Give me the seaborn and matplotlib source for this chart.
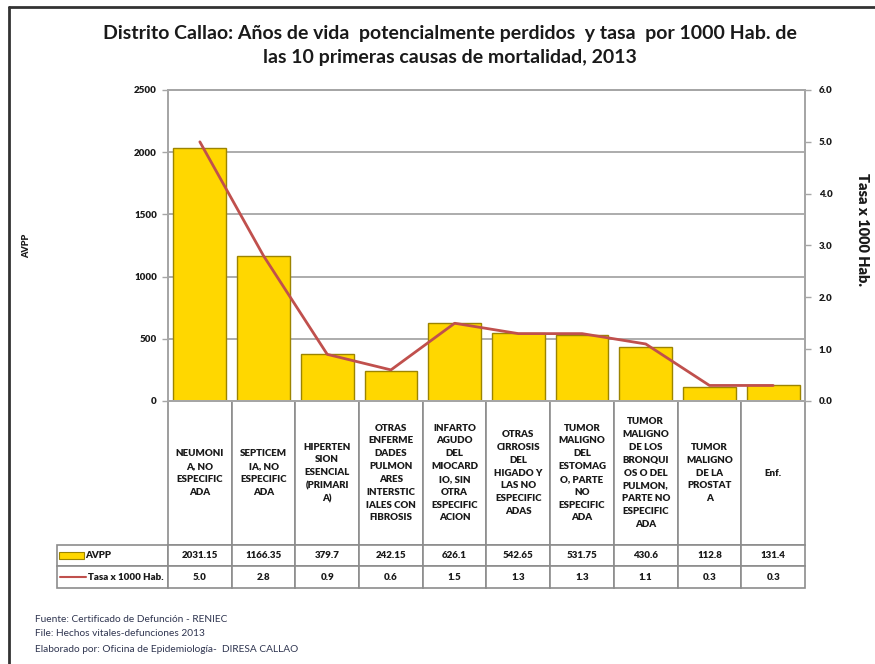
import matplotlib
matplotlib.use("Agg")
import numpy as np
import matplotlib.pyplot as plt
from matplotlib.lines import Line2D
from matplotlib.patches import Rectangle
from matplotlib.ticker import FormatStrFormatter
import seaborn as sns

# data
causes = [
    "NEUMONI\nA, NO\nESPECIFIC\nADA",
    "SEPTICEM\nIA, NO\nESPECIFIC\nADA",
    "HIPERTEN\nSION\nESENCIAL\n(PRIMARI\nA)",
    "OTRAS\nENFERME\nDADES\nPULMON\nARES\nINTERSTIC\nIALES CON\nFIBROSIS",
    "INFARTO\nAGUDO\nDEL\nMIOCARD\nIO, SIN\nOTRA\nESPECIFIC\nACION",
    "OTRAS\nCIRROSIS\nDEL\nHIGADO Y\nLAS NO\nESPECIFIC\nADAS",
    "TUMOR\nMALIGNO\nDEL\nESTOMAG\nO, PARTE\nNO\nESPECIFIC\nADA",
    "TUMOR\nMALIGNO\nDE LOS\nBRONQUI\nOS O DEL\nPULMON,\nPARTE NO\nESPECIFIC\nADA",
    "TUMOR\nMALIGNO\nDE LA\nPROSTAT\nA",
    "Enf.",
]
avpp = [2031.15, 1166.35, 379.7, 242.15, 626.1, 542.65, 531.75, 430.6, 112.8, 131.4]
tasa = [5.0, 2.8, 0.9, 0.6, 1.5, 1.3, 1.3, 1.1, 0.3, 0.3]
avpp_ticks = [0, 500, 1000, 1500, 2000, 2500]
tasa_ticks = [0, 1, 2, 3, 4, 5, 6]

GOLD = "#FFD700"
GOLD_EDGE = "#9C8400"
RED = "#C0504D"
GRID = "#A6A6A6"
TXT = "#1a1a1a"
BOLD = "heavy"

sns.set_theme(style="white")
plt.rcParams["font.family"] = ["Lato", "DejaVu Sans"]

W, H = 875, 664
fig = plt.figure(figsize=(W / 100, H / 100), dpi=100)


def px(x0, y0, x1, y1):
    return [x0 / W, 1 - y1 / H, (x1 - x0) / W, (y1 - y0) / H]


ax = fig.add_axes(px(168, 90, 805, 401))
sns.barplot(x=causes, y=avpp, color=GOLD, saturation=1, width=0.83,
            edgecolor=GOLD_EDGE, linewidth=1.0, ax=ax)
ax.set_xlim(-0.5, len(causes) - 0.5)
ax.set_ylim(0, 2500)
ax.set_yticks(avpp_ticks)
ax.set_xticks([])
ax.set_xlabel("")
ax.set_ylabel("AVPP", fontsize=6.5, fontweight=BOLD, color=TXT)
ax.yaxis.set_label_coords(-0.215, 0.5)
ax.grid(axis="y", color=GRID, linewidth=1.3)
ax.set_axisbelow(True)
ax.tick_params(axis="y", direction="out", length=4, width=1, color=GRID,
               labelsize=7, labelcolor=TXT, pad=4)
for lab in ax.get_yticklabels():
    lab.set_fontweight(BOLD)
for sp in ax.spines.values():
    sp.set_color(GRID)
    sp.set_linewidth(1.3)

ax2 = ax.twinx()
sns.lineplot(x=np.arange(len(tasa)), y=tasa, color=RED, linewidth=2, ax=ax2)
ax2.set_ylim(0, 6)
ax2.set_yticks(tasa_ticks)
ax2.yaxis.set_major_formatter(FormatStrFormatter("%.1f"))
ax2.tick_params(axis="y", direction="out", length=4, width=1, color=GRID,
                labelsize=7, labelcolor=TXT, pad=6)
for lab in ax2.get_yticklabels():
    lab.set_fontweight(BOLD)
ax2.set_ylabel("Tasa x 1000 Hab.", fontsize=10.5, fontweight=BOLD, color=TXT,
               rotation=-90, va="center")
ax2.yaxis.set_label_coords(1.09, 0.55)
for sp in ax2.spines.values():
    sp.set_color(GRID)
    sp.set_linewidth(1.3)

# data table under the chart
plot_w, plot_h = 637, 311
label_w, col_w = 111, plot_w / len(causes)
row_h = [144, 21, 22]
cell_text = [[""] + causes,
             [""] + [f"{v:g}" for v in avpp],
             [""] + [f"{v:.1f}" for v in tasa]]
tbl = ax.table(cellText=cell_text, cellLoc="center",
               bbox=[-label_w / plot_w, -sum(row_h) / plot_h,
                     (plot_w + label_w) / plot_w, sum(row_h) / plot_h])
tbl.auto_set_font_size(False)
tbl.set_fontsize(7)
for (r, c), cell in tbl.get_celld().items():
    cell.set_height(row_h[r])
    cell.set_width(label_w if c == 0 else col_w)
    cell.set_edgecolor("#8c8c8c")
    cell.set_linewidth(1.2)
    cell.get_text().set_fontweight(BOLD)
    cell.get_text().set_color(TXT)
    cell.get_text().set_linespacing(1.55)
    if r == 0 and c == 0:
        cell.visible_edges = "open"

# legend keys inside the table
y_avpp = -(row_h[0] + row_h[1] / 2) / plot_h
y_tasa = -(row_h[0] + row_h[1] + row_h[2] / 2) / plot_h
ax.add_patch(Rectangle(((59 - 168) / plot_w, y_avpp - 3 / plot_h), 25 / plot_w, 7 / plot_h,
                       transform=ax.transAxes, facecolor=GOLD, edgecolor=GOLD_EDGE,
                       linewidth=0.8, clip_on=False))
ax.add_line(Line2D([(60 - 168) / plot_w, (86 - 168) / plot_w], [y_tasa, y_tasa],
                   transform=ax.transAxes, color=RED, linewidth=1.5, clip_on=False))
ax.text((85 - 168) / plot_w, y_avpp, "AVPP", transform=ax.transAxes, ha="left",
        va="center", fontsize=7, fontweight=BOLD, color=TXT)
ax.text((88 - 168) / plot_w, y_tasa, "Tasa x 1000 Hab.", transform=ax.transAxes,
        ha="left", va="center", fontsize=7, fontweight=BOLD, color=TXT)

# title and notes
fig.text(450 / W, 1 - 33 / H, "Distrito Callao: Años de vida  potencialmente perdidos  y tasa  por 1000 Hab. de",
         ha="center", va="center", fontsize=14, fontweight="bold", color=TXT)
fig.text(450 / W, 1 - 58 / H, "las 10 primeras causas de mortalidad, 2013",
         ha="center", va="center", fontsize=14, fontweight="bold", color=TXT)
notes = ["Fuente: Certificado de Defunción - RENIEC",
         "File: Hechos vitales-defunciones 2013",
         "Elaborado por: Oficina de Epidemiología-  DIRESA CALLAO"]
for i, note in enumerate(notes):
    fig.text(35 / W, 1 - (619 + 15 * i) / H, note, ha="left", va="center",
             fontsize=7.3, color="#2f3550")

# outer frame
fig.add_artist(Line2D([9 / W, 9 / W], [0, 1 - 7 / H], transform=fig.transFigure,
                      color="#333333", linewidth=2))
fig.add_artist(Line2D([9 / W, 1], [1 - 7 / H, 1 - 7 / H], transform=fig.transFigure,
                      color="#333333", linewidth=2))

fig.savefig("out.png", dpi=100)
